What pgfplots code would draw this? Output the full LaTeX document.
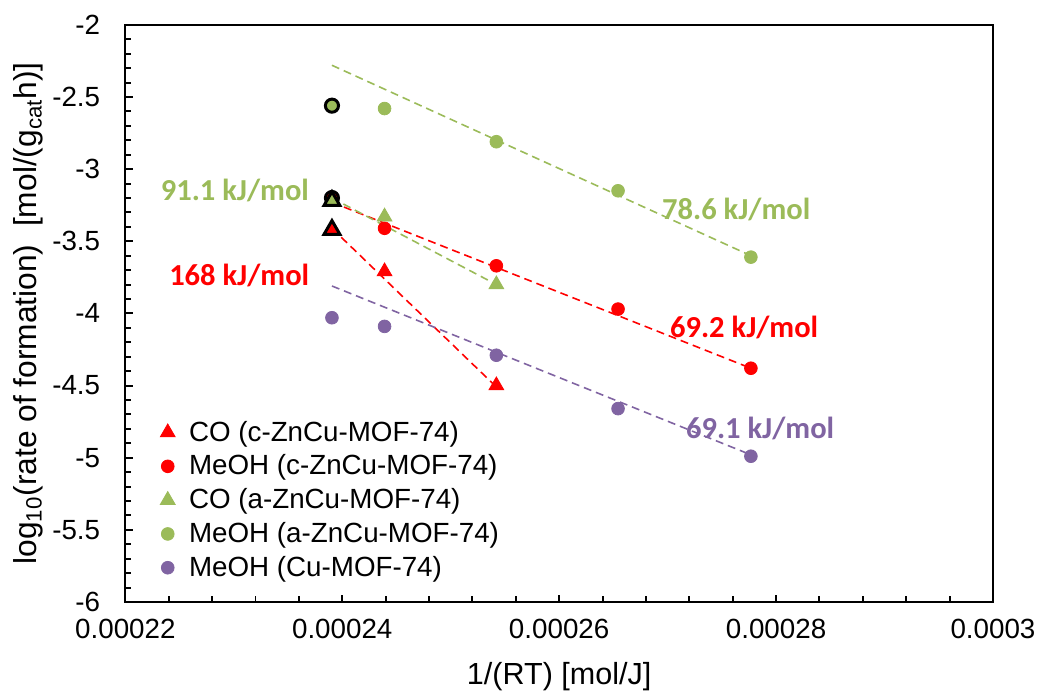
\documentclass[border=0pt]{standalone}
\usepackage{fontspec}
\setmainfont{Liberation Sans}
\newfontfamily\calibri{Carlito}
\usepackage{pgfplots}
\pgfplotsset{compat=1.18}
\definecolor{exgreen}{RGB}{155,187,89}
\definecolor{exred}{RGB}{255,0,0}
\definecolor{expurple}{RGB}{128,100,162}
\pgfplotsset{trend/.style={line width=0.8bp, dash pattern=on 4bp off 2.5bp, forget plot}}
\tikzset{ea/.style={font=\calibri\bfseries\fontsize{15.4}{18}\selectfont}}

\begin{document}
\begin{tikzpicture}
\begin{axis}[
    scale only axis,
    width=436bp, height=290bp,
    xmin=0.00022, xmax=0.0003,
    ymin=-6, ymax=-2,
    scaled x ticks=false,
    xtick={0.00022,0.00024,0.00026,0.00028,0.0003},
    xticklabels={0.00022,0.00024,0.00026,0.00028,0.0003},
    ytick={-6,-5.5,-5,-4.5,-4,-3.5,-3,-2.5,-2},
    yticklabels={-6,-5.5,-5,-4.5,-4,-3.5,-3,-2.5,-2},
    minor x tick num=4, minor y tick num=4,
    xtick pos=bottom, ytick pos=left, tick align=inside,
    major tick length=3.6bp, minor tick length=3bp,
    every tick/.style={black, line width=1bp},
    axis line style={line width=1bp},
    every tick label/.append style={font=\fontsize{14}{16}\selectfont},
    xticklabel style={anchor=center, yshift=-13.5bp},
    yticklabel style={anchor=east, inner sep=0pt, xshift=-12.5bp},
    xlabel={1/(RT) [mol/J]},
    ylabel={log\textsubscript{10}(rate of formation)\ \ [mol/(g\textsubscript{cat}h)]},
    xlabel style={font=\fontsize{15.4}{17}\selectfont, at={(axis description cs:0.5,-0.129)}, anchor=center},
    ylabel style={font=\fontsize{16}{18}\selectfont, at={(axis description cs:-0.112,0.5)}, anchor=center},
    legend style={draw=none, fill=none, at={(0.033,0.328)}, anchor=north west,
        font=\fontsize{14}{16}\selectfont, row sep=1.4bp,
        /tikz/every odd column/.append style={column sep=5bp}},
    legend cell align=left,
]
% trend lines
\addplot[exgreen, trend] coordinates {(0.00023905,-2.28) (0.00027768,-3.60)};
\addplot[exred, trend] coordinates {(0.00023905,-3.23) (0.00027768,-4.38)};
\addplot[exred, trend] coordinates {(0.00023905,-3.41) (0.00025421,-4.51)};
\addplot[exgreen, trend] coordinates {(0.00023905,-3.20) (0.00025421,-3.80)};
\addplot[expurple, trend] coordinates {(0.00023905,-3.81) (0.00027768,-4.98)};

% data
\addplot[only marks, mark=triangle*, mark size=4.3bp, exred] coordinates {
    (0.00024390,-3.71) (0.00025421,-4.50)};
\addlegendentry{CO (c-ZnCu-MOF-74)}
\addplot[only marks, mark=*, mark size=3.2bp, exred] coordinates {
    (0.00024390,-3.41) (0.00025421,-3.67) (0.00026543,-3.97) (0.00027768,-4.38)};
\addlegendentry{MeOH (c-ZnCu-MOF-74)}
\addplot[only marks, mark=triangle*, mark size=4.3bp, exgreen] coordinates {
    (0.00024390,-3.33) (0.00025421,-3.80)};
\addlegendentry{CO (a-ZnCu-MOF-74)}
\addplot[only marks, mark=*, mark size=3.2bp, exgreen] coordinates {
    (0.00024390,-2.58) (0.00025421,-2.81) (0.00026543,-3.15) (0.00027768,-3.61)};
\addlegendentry{MeOH (a-ZnCu-MOF-74)}
\addplot[only marks, mark=*, mark size=3.2bp, expurple] coordinates {
    (0.00023905,-4.03) (0.00024390,-4.09) (0.00025421,-4.29) (0.00026543,-4.66) (0.00027768,-4.99)};
\addlegendentry{MeOH (Cu-MOF-74)}

% highlighted points at the highest temperature
\addplot[only marks, mark=triangle*, mark size=4.6bp, mark options={fill=exred, draw=black, line width=1.5bp}, forget plot]
    coordinates {(0.00023905,-3.42)};
\addplot[only marks, mark=*, mark size=3.3bp, mark options={fill=exred, draw=black, line width=1.5bp}, forget plot]
    coordinates {(0.00023905,-3.20)};
\addplot[only marks, mark=triangle*, mark size=4.6bp, mark options={fill=exgreen, draw=black, line width=1.5bp}, forget plot]
    coordinates {(0.00023905,-3.22)};
\addplot[only marks, mark=*, mark size=3.3bp, mark options={fill=exgreen, draw=black, line width=1.5bp}, forget plot]
    coordinates {(0.00023905,-2.56)};

% activation energies
\node[exgreen, ea] at (axis cs:0.0002301,-3.15) {91.1 kJ/mol};
\node[exgreen, ea] at (axis cs:0.00027633,-3.28) {78.6 kJ/mol};
\node[exred, ea] at (axis cs:0.0002305,-3.74) {168 kJ/mol};
\node[exred, ea] at (axis cs:0.00027706,-4.10) {69.2 kJ/mol};
\node[expurple, ea] at (axis cs:0.00027853,-4.80) {69.1 kJ/mol};
\end{axis}
\path (current axis.south west) ++(-63bp,-46.5bp);
\path (current axis.north east) ++(22bp,12.5bp);
\end{tikzpicture}
\end{document}
